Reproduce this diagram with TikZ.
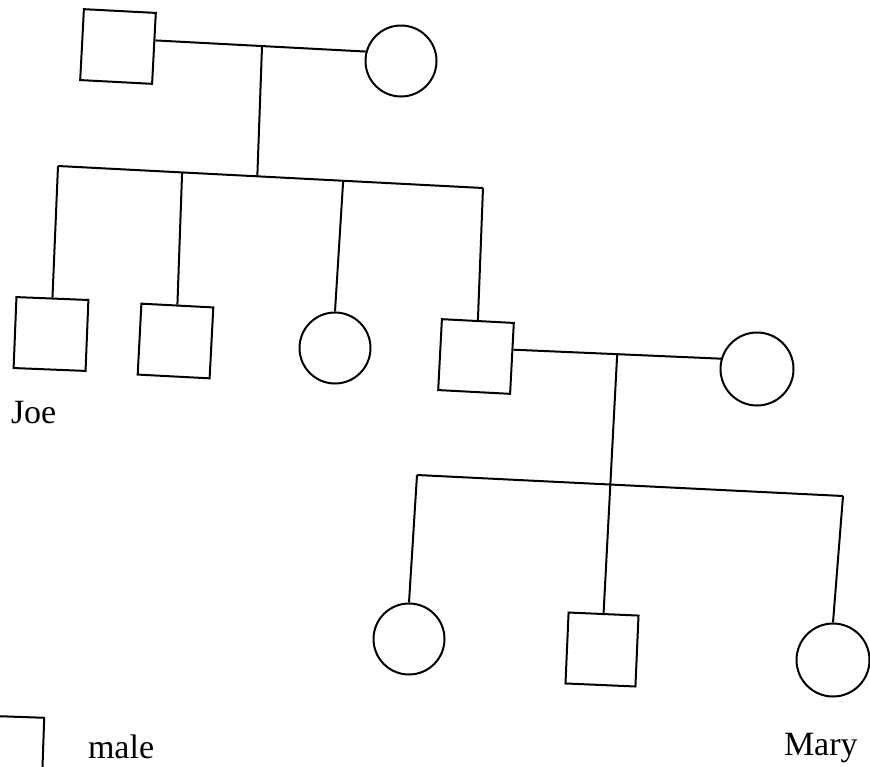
\documentclass[tikz,border=0pt]{standalone}
\usepackage{fontspec}
\setmainfont{Liberation Serif}
\usetikzlibrary{calc}
\begin{document}
\begin{tikzpicture}[x=1pt,y=-1pt,
  line width=2pt,
  male/.style={draw,rectangle,minimum width=72pt,minimum height=71pt,inner sep=0pt,rotate=-3},
  female/.style={draw,circle,minimum size=71pt,inner sep=0pt},
  lbl/.style={font=\fontsize{34}{40}\selectfont,anchor=base west,inner sep=0pt}]
\useasboundingbox (0,0) rectangle (870,766);
\clip (0,0) rectangle (870,766);
% generation 1
\node[male] (f1) at (118,46.5) {};
\node[female] (m1) at (401,61) {};
\coordinate (m1a) at ($(f1.north east)!0.39!(f1.south east)$);
\draw (m1a) -- (m1.165);
\coordinate (J1) at ($(m1a)!0.507!(m1.165)$);
% sibling line 1
\coordinate (sL) at (58,166);
\coordinate (sR) at (483,188);
\coordinate (J2) at ($(sL)!0.469!(sR)$);
\coordinate (s2) at ($(sL)!0.292!(sR)$);
\coordinate (s3) at ($(sL)!0.671!(sR)$);
\draw (J1) -- (J2);
\draw (sL) -- (sR);
% generation 2
\node[male,rotate=0.7] (joe) at (51,334) {};
\node[male] (b2) at (175.5,341) {};
\node[female] (g3) at (335,348) {};
\node[male] (b4) at (476,356.5) {};
\draw (sL) -- (joe.north);
\draw (s2) -- (b2.north);
\draw (s3) -- (g3.north);
\draw (sR) -- (b4.north);
% marriage 2
\node[female,minimum size=73pt] (w4) at (757,369) {};
\coordinate (m2a) at ($(b4.north east)!0.38!(b4.south east)$);
\draw (m2a) -- (w4.164);
\coordinate (J3) at ($(m2a)!0.5!(w4.164)$);
% sibling line 2
\coordinate (tL) at (417,475);
\coordinate (tR) at (843,496);
\draw (tL) -- (tR);
% generation 3
\node[female] (g5) at (409,639) {};
\node[male,rotate=0.5,minimum width=70pt] (b6) at (602,649.5) {};
\node[female,minimum size=73pt] (mary) at (833,660) {};
\draw (J3) -- (b6.north);
\draw (tL) -- (g5.north);
\draw (tR) -- (mary.north);
% labels
\node[lbl] (joelbl) at (10,423) {Joe};
\node[lbl] (marylbl) at (783,755) {Mary};
% legend
\node[male,rotate=1] (legsq) at (7,752) {};
\node[lbl] (malelbl) at (87,758) {male};
\end{tikzpicture}
\end{document}
